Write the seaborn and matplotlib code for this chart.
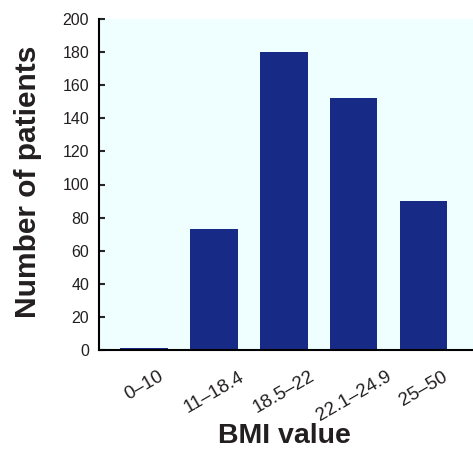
import pandas as pd
import matplotlib
matplotlib.use('Agg')
import matplotlib.pyplot as plt
import seaborn as sns

# BMI groups and patient counts
bmi_groups = ['0\u201310', '11\u201318.4', '18.5\u201322', '22.1\u201324.9', '25\u201350']
patients = [1, 73, 180, 152, 90]
y_ticks = [0, 20, 40, 60, 80, 100, 120, 140, 160, 180, 200]

df = pd.DataFrame({'bmi': bmi_groups, 'patients': patients})

sns.set_style('ticks')
plt.rcParams['font.family'] = ['Liberation Sans', 'DejaVu Sans']

fig = plt.figure(figsize=(4.73, 4.5), dpi=100)
ax = fig.add_axes([0.209, 0.222, 0.791, 0.736])
ax.set_facecolor('#effefe')

sns.barplot(data=df, x='bmi', y='patients', color='#172a85', saturation=1,
            width=0.68, linewidth=0, edgecolor='none', ax=ax)

ax.set_ylim(0, 200)
ax.set_xlim(-0.65, 4.71)
ax.set_yticks(y_ticks)
ax.tick_params(axis='y', direction='in', length=4, width=1.5, labelsize=11.5, pad=7,
               labelcolor='#231f20')
ax.tick_params(axis='x', length=0, labelsize=13.5, pad=13, labelcolor='#231f20')
for lab in ax.get_xticklabels():
    lab.set_rotation(30)
    lab.set_ha('center')

for s in ['top', 'right']:
    ax.spines[s].set_visible(False)
for s in ['left', 'bottom']:
    ax.spines[s].set_color('black')
    ax.spines[s].set_linewidth(1.5)

ax.set_xlabel('BMI value', fontsize=20.5, fontweight='bold', color='#231f20')
ax.set_ylabel('Number of patients', fontsize=21.5, fontweight='bold', color='#231f20')
ax.xaxis.set_label_coords(0.497, -0.281)
ax.xaxis.label.set_va('baseline')
ax.yaxis.set_label_coords(-0.19, 0.508)
ax.yaxis.label.set_va('center')

fig.savefig('out.png', dpi=100)
